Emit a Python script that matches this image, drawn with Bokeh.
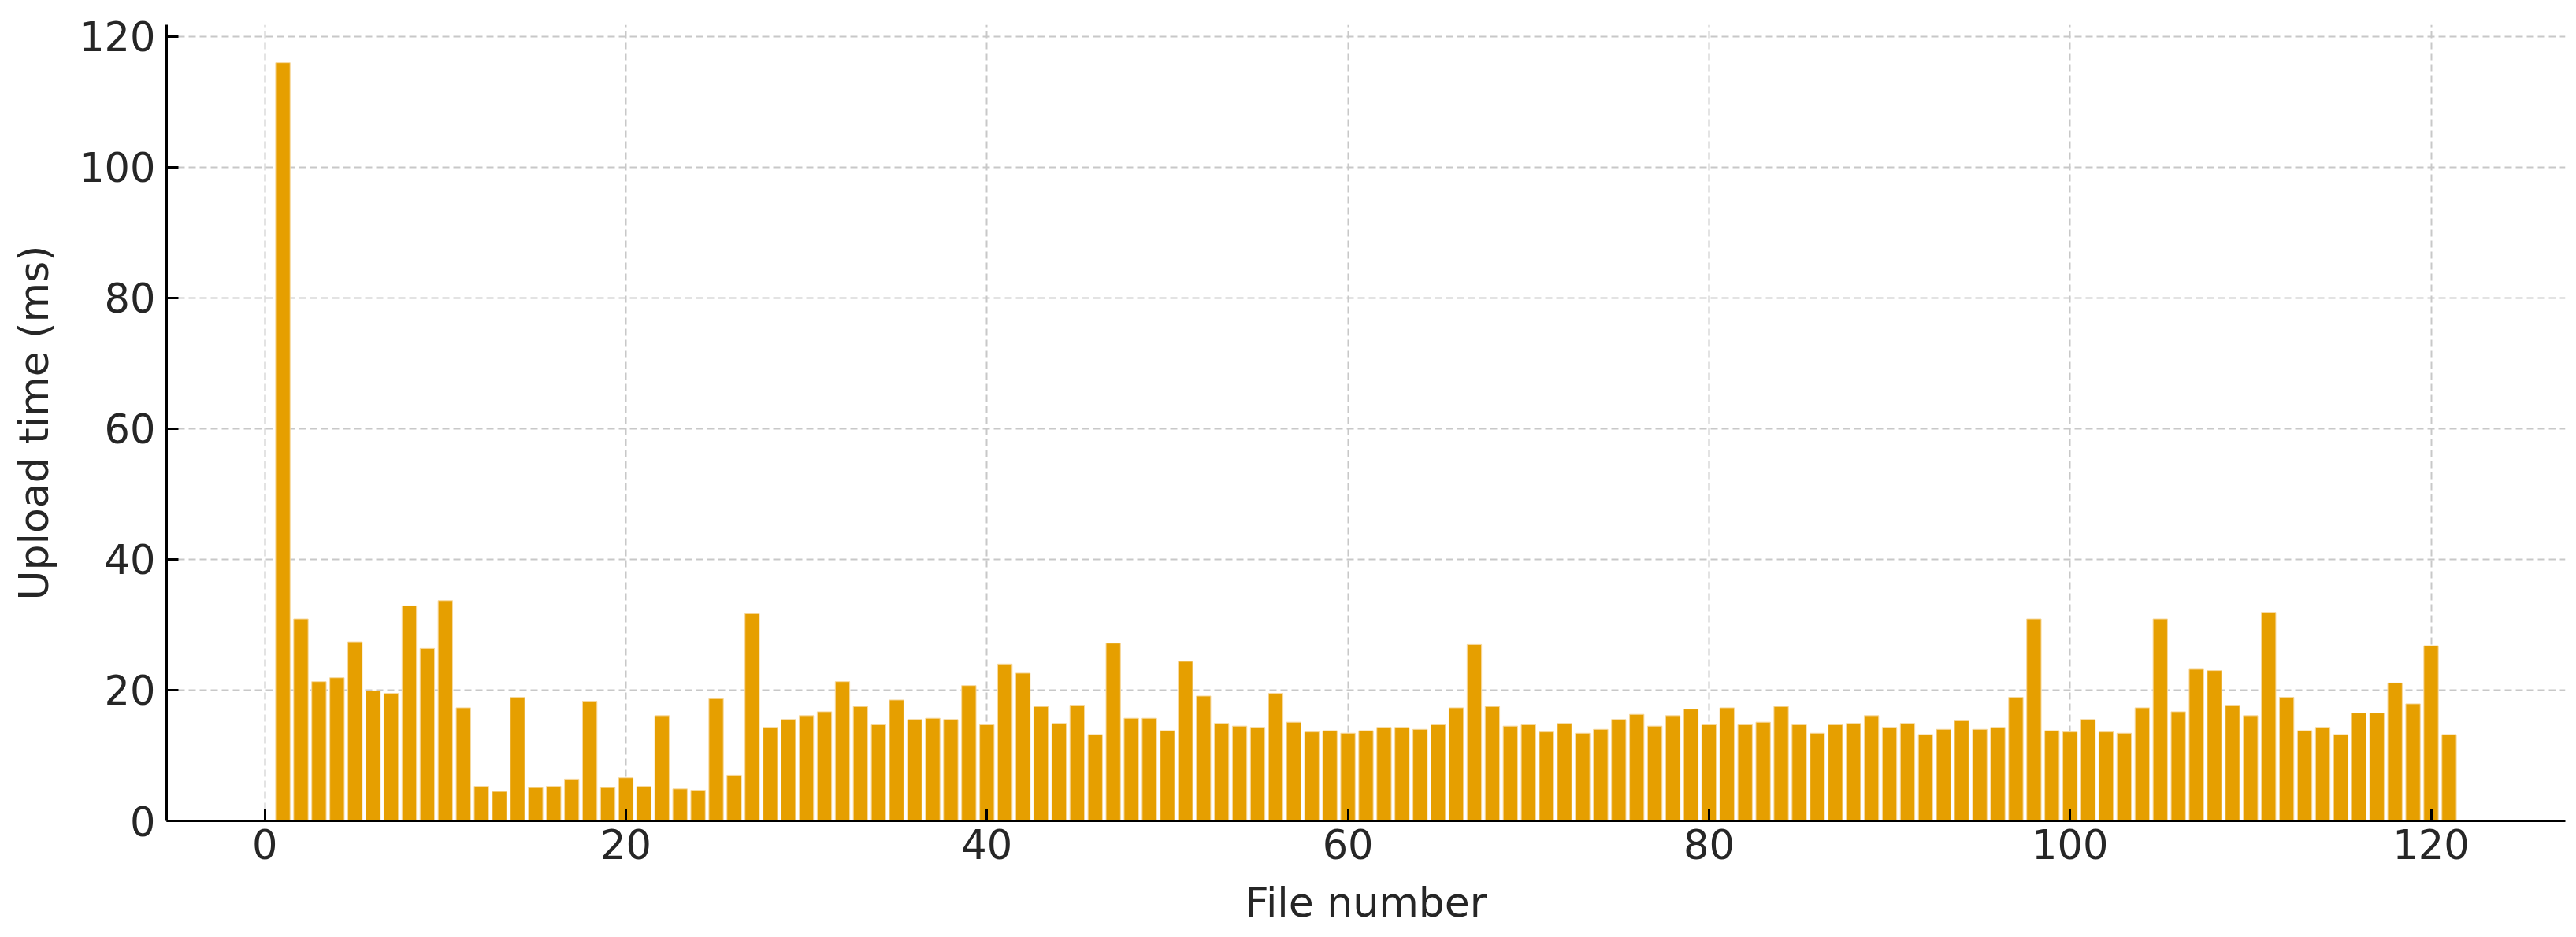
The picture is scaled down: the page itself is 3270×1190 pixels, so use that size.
from bokeh.plotting import figure
from bokeh.models import ColumnDataSource, FixedTicker, Range1d
from bokeh.embed import file_html
from bokeh.resources import INLINE

file_numbers = list(range(1, 122))
upload_ms = [
    116.0, 30.9, 21.3, 21.9, 27.4, 19.9, 19.5, 32.9, 26.4, 33.7,
    17.3, 5.3, 4.5, 18.9, 5.1, 5.3, 6.4, 18.3, 5.1, 6.6,
    5.3, 16.1, 4.9, 4.7, 18.7, 7.0, 31.7, 14.3, 15.5, 16.1,
    16.7, 21.3, 17.5, 14.7, 18.5, 15.5, 15.7, 15.5, 20.7, 14.7,
    24.0, 22.6, 17.5, 14.9, 17.7, 13.2, 27.2, 15.7, 15.7, 13.8,
    24.4, 19.1, 14.9, 14.5, 14.3, 19.5, 15.1, 13.6, 13.8, 13.4,
    13.8, 14.3, 14.3, 14.0, 14.7, 17.3, 27.0, 17.5, 14.5, 14.7,
    13.6, 14.9, 13.4, 14.0, 15.5, 16.3, 14.5, 16.1, 17.1, 14.7,
    17.3, 14.7, 15.1, 17.5, 14.7, 13.4, 14.7, 14.9, 16.1, 14.3,
    14.9, 13.2, 14.0, 15.3, 14.0, 14.3, 18.9, 30.9, 13.8, 13.6,
    15.5, 13.6, 13.4, 17.3, 30.9, 16.7, 23.2, 23.0, 17.7, 16.1,
    31.9, 18.9, 13.8, 14.3, 13.2, 16.5, 16.5, 21.1, 17.9, 26.8,
    13.2,
]
x_ticks = [0, 20, 40, 60, 80, 100, 120]
y_ticks = [0, 20, 40, 60, 80, 100, 120]

source = ColumnDataSource(data=dict(x=file_numbers, y=upload_ms))

p = figure(
    width=3258, height=1182,
    output_backend="svg", toolbar_location=None,
    x_range=Range1d(-5.44, 127.44), y_range=Range1d(0, 121.8),
    min_border_left=211, min_border_right=2, min_border_top=31, min_border_bottom=140,
)
p.vbar(x="x", top="y", width=0.8, source=source,
       fill_color="#E69F00", line_color="#f7d9a0", line_width=1)

p.outline_line_color = None
p.background_fill_color = "white"
p.border_fill_color = "white"

for ax in (p.xaxis, p.yaxis):
    ax.axis_line_color = "#000000"
    ax.axis_line_width = 3
    ax.major_tick_in = 15
    ax.major_tick_out = 0
    ax.major_tick_line_width = 3
    ax.major_tick_line_color = "#000000"
    ax.minor_tick_line_color = None
    ax.major_label_text_font = "DejaVu Sans"
    ax.major_label_text_font_size = "51px"
    ax.major_label_text_color = "#262626"
    ax.major_label_text_line_height = 1.0
    ax.axis_label_text_font = "DejaVu Sans"
    ax.axis_label_text_font_size = "52px"
    ax.axis_label_text_font_style = "normal"
    ax.axis_label_text_color = "#262626"
    ax.axis_label_text_line_height = 1.0

p.xaxis.ticker = FixedTicker(ticks=x_ticks)
p.yaxis.ticker = FixedTicker(ticks=y_ticks)
p.xaxis.axis_label = "File number"
p.yaxis.axis_label = "Upload time (ms)"
p.xaxis.major_label_standoff = 10
p.yaxis.major_label_standoff = 14
p.xaxis.axis_label_standoff = 22
p.yaxis.axis_label_standoff = 24

for g in (p.xgrid, p.ygrid):
    g.grid_line_color = "#c8c8c8"
    g.grid_line_width = 2
    g.grid_line_dash = "9 5"
p.xgrid.ticker = FixedTicker(ticks=x_ticks)
p.ygrid.ticker = FixedTicker(ticks=y_ticks)

open("out.html", "w").write(file_html(p, INLINE))
